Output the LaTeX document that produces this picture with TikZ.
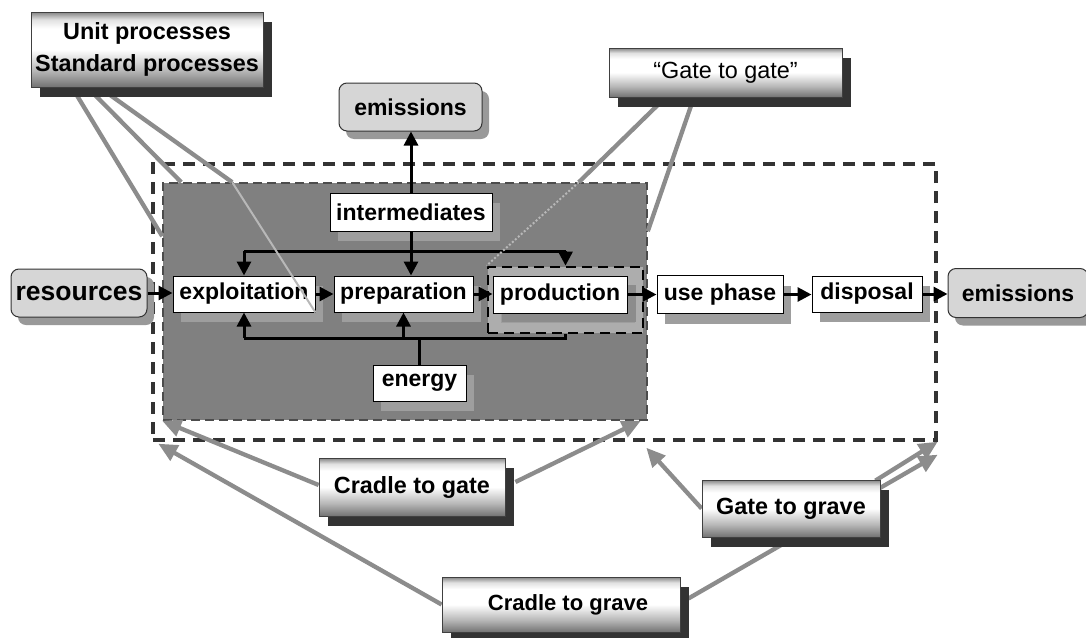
\documentclass[tikz,border=0pt]{standalone}
\usepackage{fontspec}
\setmainfont{Liberation Sans}
\usetikzlibrary{shadows,arrows.meta,calc}
\pgfdeclarelayer{bg}
\pgfdeclarelayer{lines}
\pgfsetlayers{bg,lines,main}
\pgfdeclareverticalshading{lblshade}{100bp}{color(0bp)=(black!55); color(25bp)=(black!55); color(36bp)=(black!28); color(50bp)=(white); color(64bp)=(white); color(70bp)=(black!12); color(75bp)=(black!48); color(100bp)=(black!48)}
\begin{document}
\begin{tikzpicture}[x=1pt,y=-1pt,
  lbl/.style={draw=black!75, line width=0.8pt, shading=lblshade,
    drop shadow={shadow xshift=9pt,shadow yshift=-10pt,fill=black!80,opacity=1},
    font=\fontsize{23.4}{32}\selectfont\bfseries, inner sep=0pt, align=center},
  wbox/.style={draw=black, line width=1pt, fill=white, inner sep=0pt,
    font=\fontsize{23}{27}\selectfont\bfseries,
    drop shadow={shadow xshift=8pt,shadow yshift=-10pt,fill=black!38,opacity=1}},
  rbox/.style={draw=black!80, line width=1pt, fill=black!16, rounded corners=8pt, inner sep=0pt,
    font=\fontsize{23}{27}\selectfont\bfseries,
    drop shadow={shadow xshift=7pt,shadow yshift=-8pt,fill=black!40,opacity=1}},
  flow/.style={line width=3pt, black, -{Triangle[length=14pt,width=14pt]}},
  bus/.style={line width=3pt, black},
  gline/.style={line width=4.3pt, draw=black!45},
  garrow/.style={gline, -{Triangle[length=19pt,width=17pt]}},
  faint/.style={line width=2pt, draw=black!28}
]
\useasboundingbox (0,0) rectangle (1086,637);
\begin{pgfonlayer}{bg}
\fill[white] (0,0) rectangle (1086,637);
\node[draw=black!80, line width=3.4pt, dash pattern=on 12pt off 8pt, minimum width=783pt, minimum height=276pt, inner sep=0pt] (outer) at (544.5,302) {};
\node[fill=black!50, draw=black!70, line width=1.6pt, dash pattern=on 9pt off 5pt, minimum width=484pt, minimum height=237pt, inner sep=0pt] (gray) at (405,301.5) {};
\node[fill=black!32, draw=black, line width=2.8pt, dash pattern=on 10pt off 6pt, minimum width=155pt, minimum height=66pt, inner sep=0pt] (proddash) at (565.5,300) {};
\node[wbox, minimum width=134pt, minimum height=37pt, drop shadow={shadow xshift=9pt,shadow yshift=-9pt,fill=black!45,opacity=1}] (prod) at (560,294.5) {production};
\node[wbox, minimum width=162pt, minimum height=38pt] (inter) at (411,212) {intermediates};
\node[wbox, minimum width=142pt, minimum height=36pt] (exploit) at (244,294) {exploitation};
\node[wbox, minimum width=139pt, minimum height=36pt] (prep) at (403.5,294) {preparation};
\node[wbox, minimum width=93pt, minimum height=36pt] (energy) at (419.5,383) {energy};
\node[wbox, minimum width=126pt, minimum height=38pt] (usephase) at (720,294.5) {use phase};
\node[wbox, minimum width=110pt, minimum height=36pt] (disposal) at (867,294) {disposal};
\node[rbox, minimum width=143pt, minimum height=48pt] (emtop) at (410.5,107) {emissions};
\node[rbox, minimum width=140pt, minimum height=49pt] (emright) at (1018,293) {emissions};
\node[rbox, minimum width=136pt, minimum height=48pt, font=\fontsize{26.5}{30}\selectfont\bfseries] (resources) at (79,293) {resources};
\coordinate (tbus) at (0,251);
\coordinate (bbus) at (0,338);
% top bus
\draw[bus] (exploit.north |- tbus) -- (proddash.north |- tbus);
\draw[flow] (exploit.north |- tbus) -- (exploit.north);
\draw[flow] (inter.south) -- (inter.south |- prep.north);
\draw[flow] (proddash.north |- tbus) -- (proddash.north);
% bottom bus
\draw[bus] (exploit.south |- bbus) -- (proddash.south |- bbus) -- (proddash.south);
\draw[flow] (exploit.south |- bbus) -- (exploit.south);
\draw[flow] (prep.south |- bbus) -- (prep.south);
\draw[bus] (energy.north) -- (energy.north |- bbus);
% main chain
\draw[flow] (inter.north) -- (inter.north |- emtop.south);
\draw[flow] (resources.east) -- (resources.east -| exploit.west);
\draw[flow] (exploit.east) -- (prep.west);
\draw[flow] (prep.east) -- (prep.east -| prod.west);
\draw[flow] (prod.east) -- (prod.east -| usephase.west);
\draw[flow] (usephase.east) -- (usephase.east -| disposal.west);
\draw[flow] (disposal.east) -- (disposal.east -| emright.west);
% faint hidden continuations
\draw[faint] ([xshift=70pt]gray.north west) -- (exploit.south east);
\draw[faint, dotted] ([xshift=-69pt]gray.north east) -- (proddash.north west);
\end{pgfonlayer}
% label boxes
\node[lbl, minimum width=232pt, minimum height=75pt] (unit) at (147,49.5) {Unit processes\\Standard processes};
\node[lbl, minimum width=233pt, minimum height=49pt, font=\fontsize{23.4}{28}\selectfont] (gategate) at (725.5,72.5) {“Gate to gate”};
\node[lbl, minimum width=186pt, minimum height=58pt] (cradlegate) at (412,487) {Cradle to gate};
\node[lbl, minimum width=178pt, minimum height=57pt] (gategrave) at (791,508.5) {Gate to grave};
\node[lbl, minimum width=238pt, minimum height=55pt, font=\fontsize{22}{26}\selectfont\bfseries] (cradlegrave) at (561,604.5) {\hspace*{14pt}Cradle to grave};
\begin{pgfonlayer}{lines}
\draw[gline] ([xshift=36pt,yshift=9pt]unit.south west) -- ([yshift=-54pt]gray.north west);
\draw[gline] ([xshift=49pt,yshift=8pt]unit.south west) -- ([xshift=19pt]gray.north west);
\draw[gline] ([xshift=59pt,yshift=7pt]unit.south west) -- ([xshift=70pt]gray.north west);
\draw[gline] ([xshift=59pt,yshift=2pt]gategate.south west) -- ([xshift=-69pt]gray.north east);
\draw[gline] ([xshift=86pt,yshift=2pt]gategate.south west) -- ([yshift=-49pt]gray.north east);
\draw[garrow] ([yshift=2pt]cradlegate.west) -- (gray.south west);
\draw[garrow] ([xshift=10pt,yshift=5pt]cradlegate.east) -- ([xshift=-7pt]gray.south east);
\draw[garrow] (gategrave.west) -- ([xshift=495pt,yshift=-6pt]outer.south west);
\draw[garrow] ([xshift=-5pt,yshift=-1pt]gategrave.north east) -- (outer.south east);
\draw[garrow] ([xshift=8pt,yshift=6pt]cradlegrave.east) -- ([yshift=-13pt]outer.south east);
\draw[garrow] (cradlegrave.west) -- ([xshift=7pt,yshift=-2pt]outer.south west);
\end{pgfonlayer}
\end{tikzpicture}
\end{document}
